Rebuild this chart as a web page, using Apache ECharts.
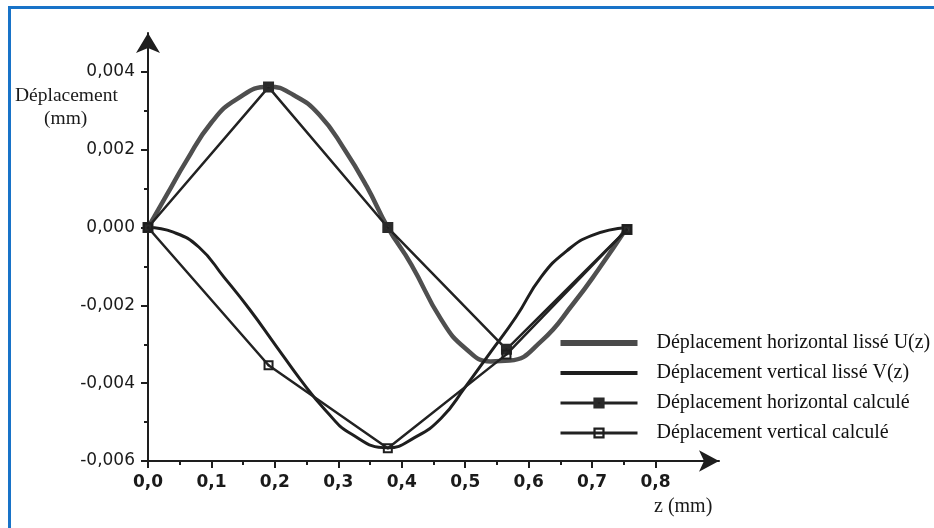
<!DOCTYPE html>
<html>
<head>
<meta charset="utf-8">
<script src="https://cdn.jsdelivr.net/npm/echarts@6/dist/echarts.min.js"></script>
<style>
html,body{margin:0;padding:0;background:#fff;}
#chart{width:934px;height:528px;}
</style>
</head>
<body>
<div id="chart"></div>
<script>
// ---- data ----
const xTickLabels = [0, 0.1, 0.2, 0.3, 0.4, 0.5, 0.6, 0.7, 0.8];
const xMinorTicks = [0.05, 0.15, 0.25, 0.35, 0.45, 0.55, 0.65, 0.75];
const yTickLabels = [-0.006, -0.004, -0.002, 0, 0.002, 0.004];
const yMinorTicks = [-0.005, -0.003, -0.001, 0.001, 0.003];

const zU = [0, 0.03, 0.06, 0.1, 0.14, 0.19, 0.23, 0.27, 0.31, 0.345, 0.378, 0.415, 0.462, 0.5, 0.54, 0.57, 0.62, 0.672, 0.71, 0.755];
const uSmooth = [0, 0.00085, 0.0017, 0.0027, 0.0033, 0.00362, 0.0034, 0.0029, 0.002, 0.00105, 0, -0.00095, -0.00236, -0.0031, -0.00344, -0.00342, -0.00292, -0.00192, -0.00108, 0];

const zV = [0, 0.04, 0.08, 0.12, 0.16, 0.2, 0.24, 0.28, 0.32, 0.378, 0.42, 0.462, 0.5, 0.54, 0.58, 0.62, 0.66, 0.70, 0.755];
const vSmooth = [0, -0.00012, -0.0005, -0.00128, -0.0021, -0.003, -0.0039, -0.0047, -0.0053, -0.00566, -0.0054, -0.0049, -0.0041, -0.0032, -0.0023, -0.00126, -0.0006, -0.0002, 0];

const zCalc = [0, 0.19, 0.378, 0.565, 0.755];
const uCalc = [0, 0.00361, 0, -0.00313, -0.00005];
const vCalc = [0, -0.00354, -0.00567, -0.00326, -0.00005];

const seriesNames = [
  'Déplacement horizontal lissé U(z)',
  'Déplacement vertical lissé V(z)',
  'Déplacement horizontal calculé',
  'Déplacement vertical calculé'
];

function pairs(xs, ys) { return xs.map((x, i) => [x, ys[i]]); }

const filledSquare = 'path://M0 0H10V10H0Z M4 4V6H6V4Z';
const openSquare = 'path://M0 0H10V10H0Z M2 2V8H8V2Z M4 4H6V6H4Z';

const chart = echarts.init(document.getElementById('chart'), null, {renderer: 'canvas'});

const axisLineStyle = {color: '#1e1e1e', width: 2};

const option = {
  animation: false,
  backgroundColor: '#ffffff',
  grid: {left: 148, right: 215, top: 33, bottom: 67, containLabel: false},
  xAxis: [
    {
      type: 'value', min: 0, max: 0.9, interval: 0.1,
      splitLine: {show: false},
      axisLine: {show: true, onZero: false, lineStyle: axisLineStyle, symbol: ['none', 'arrow'], symbolSize: [16, 20]},
      axisTick: {show: true, length: 7, lineStyle: {color: '#1e1e1e', width: 2}, customValues: xTickLabels},
      axisLabel: {
        customValues: xTickLabels, margin: 13,
        fontFamily: 'DejaVu Sans', fontSize: 17, fontWeight: 'bold', color: '#1a1a1a',
        formatter: v => v.toFixed(1).replace('.', ',')
      }
    },
    {
      type: 'value', min: 0, max: 0.9, interval: 0.1, position: 'bottom',
      splitLine: {show: false},
      axisLine: {show: false, onZero: false},
      axisTick: {show: true, length: 4, lineStyle: {color: '#1e1e1e', width: 2}, customValues: xMinorTicks},
      axisLabel: {show: false}
    }
  ],
  yAxis: [
    {
      type: 'value', min: -0.006, max: 0.005, interval: 0.002,
      splitLine: {show: false},
      axisLine: {show: true, onZero: false, lineStyle: axisLineStyle, symbol: ['none', 'arrow'], symbolSize: [18, 20]},
      axisTick: {show: true, length: 7, lineStyle: {color: '#1e1e1e', width: 2}, customValues: yTickLabels},
      axisLabel: {
        customValues: yTickLabels, margin: 13,
        fontFamily: 'DejaVu Sans', fontSize: 17, color: '#1a1a1a',
        formatter: v => v.toFixed(3).replace('.', ',')
      }
    },
    {
      type: 'value', min: -0.006, max: 0.005, interval: 0.002, position: 'left',
      splitLine: {show: false},
      axisLine: {show: false, onZero: false},
      axisTick: {show: true, length: 4, lineStyle: {color: '#1e1e1e', width: 2}, customValues: yMinorTicks},
      axisLabel: {show: false}
    }
  ],
  legend: {
    orient: 'vertical', left: 554, top: 328,
    itemWidth: 77, itemHeight: 14, itemGap: 10,
    textStyle: {fontFamily: 'Liberation Serif', fontSize: 20, color: '#111', lineHeight: 20, padding: [0, 0, 0, 14]},
    data: [
      {name: seriesNames[0], icon: 'path://M0 0H77V6H0Z', itemStyle: {color: '#4a4a4a'}},
      {name: seriesNames[1], icon: 'path://M0 0H77V4H0Z', itemStyle: {color: '#1e1e1e'}},
      {name: seriesNames[2], lineStyle: {width: 3}},
      {name: seriesNames[3], lineStyle: {width: 3}}
    ]
  },
  graphic: [
    {type: 'polyline', silent: true, shape: {points: [[9.5, 528], [9.5, 7.5], [934, 7.5]]}, style: {stroke: '#1873c8', lineWidth: 3, fill: null}},
    {type: 'text', left: 15, top: 86, style: {text: 'Déplacement', font: '19.5px "Liberation Serif"', fill: '#1a1a1a'}},
    {type: 'text', left: 44, top: 109, style: {text: '(mm)', font: '19.5px "Liberation Serif"', fill: '#1a1a1a'}},
    {type: 'text', left: 654, top: 497, style: {text: 'z (mm)', font: '20px "Liberation Serif"', fill: '#1a1a1a'}}
  ],
  series: [
    {
      name: seriesNames[0], type: 'line', smooth: 0.5, symbol: 'none',
      data: pairs(zU, uSmooth),
      lineStyle: {color: '#4f4f4f', width: 4.5},
      itemStyle: {color: '#4f4f4f', borderWidth: 0},
      z: 2
    },
    {
      name: seriesNames[1], type: 'line', smooth: 0.5, symbol: 'none',
      data: pairs(zV, vSmooth),
      lineStyle: {color: '#1e1e1e', width: 3},
      itemStyle: {color: '#1e1e1e', borderWidth: 0},
      z: 3
    },
    {
      name: seriesNames[2], type: 'line', smooth: false,
      symbol: filledSquare, symbolSize: 11, showSymbol: true,
      data: pairs(zCalc, uCalc),
      lineStyle: {color: '#222', width: 2.5},
      itemStyle: {color: '#2a2a2a', borderWidth: 0},
      z: 4
    },
    {
      name: seriesNames[3], type: 'line', smooth: false,
      symbol: openSquare, symbolSize: 10, showSymbol: true,
      data: pairs(zCalc, vCalc),
      lineStyle: {color: '#222', width: 2.5},
      itemStyle: {color: '#1e1e1e', borderWidth: 0},
      z: 5
    }
  ]
};
chart.setOption(option);
</script>
</body>
</html>
